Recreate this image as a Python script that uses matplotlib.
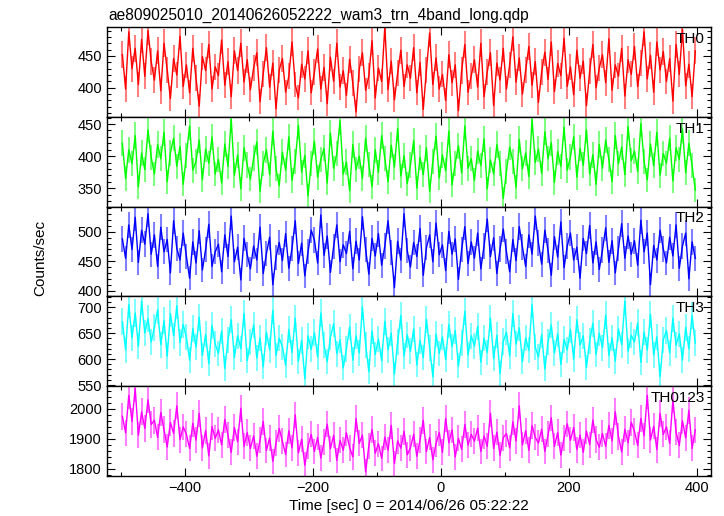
import numpy as np
import matplotlib
matplotlib.use('Agg')
import matplotlib.pyplot as plt
from matplotlib.ticker import MultipleLocator

plt.rcParams['font.family'] = ['Liberation Sans', 'DejaVu Sans']

title = 'ae809025010_20140626052222_wam3_trn_4band_long.qdp'
xlabel = 'Time [sec] 0 = 2014/06/26 05:22:22'
ylabel = 'Counts/sec'

# 5-s bins, start of first bin at -500 s
bin_start = -500.0
bin_size = 5.0

labels = ['TH0', 'TH1', 'TH2', 'TH3', 'TH0123']
colors = ['#ff0000', '#00ff00', '#0000ff', '#00ffff', '#ff00ff']
ylims = [(354, 495), (321, 461), (390, 543), (548, 721), (1777, 2076)]
ymajor = [50, 50, 50, 50, 100]
yminor = [10, 10, 10, 10, 20]

th0 = [452, 398, 488, 430, 462, 405, 476, 418, 490, 441,
       412, 458, 395, 470, 428, 383, 446, 420, 481, 402,
       436, 392, 462, 415, 371, 449, 427, 468, 398, 433,
       419, 475, 404, 441, 386, 458, 427, 470, 409, 444,
       397, 431, 455, 378, 422, 463, 401, 439, 367, 428,
       446, 393, 418, 472, 405, 384, 437, 414, 458, 392,
       425, 461, 398, 432, 375, 448, 410, 470, 401, 427,
       388, 445, 407, 362, 429, 455, 396, 419, 474, 384,
       431, 410, 496, 397, 442, 381, 423, 459, 402, 436,
       415, 463, 392, 440, 366, 428, 486, 405, 447, 398,
       421, 380, 452, 408, 436, 364, 427, 468, 393, 419,
       444, 401, 470, 386, 425, 455, 372, 439, 412, 462,
       398, 436, 480, 409, 447, 390, 428, 465, 404, 441,
       377, 425, 456, 413, 472, 394, 438, 419, 478, 402,
       433, 389, 459, 415, 442, 372, 426, 468, 400, 431,
       452, 408, 477, 396, 436, 418, 462, 387, 444, 421,
       465, 402, 439, 488, 414, 451, 393, 472, 428, 457,
       410, 446, 379, 468, 421, 492, 403, 437, 386, 458]

th1 = [420, 365, 410, 388, 432, 352, 405, 379, 441, 398,
       372, 418, 396, 437, 360, 405, 428, 384, 415, 356,
       401, 447, 378, 392, 425, 363, 411, 389, 430, 372,
       395, 358, 419, 384, 458, 370, 402, 349, 413, 386,
       364, 397, 422, 345, 388, 410, 371, 439, 380, 354,
       406, 378, 430, 362, 392, 448, 375, 401, 338, 389,
       423, 367, 395, 412, 358, 436, 381, 404, 455, 372,
       391, 346, 418, 379, 400, 365, 428, 387, 352, 410,
       375, 432, 396, 360, 417, 383, 443, 369, 401, 357,
       386, 424, 350, 398, 371, 413, 345, 392, 431, 366,
       402, 377, 439, 355, 389, 416, 374, 447, 381, 396,
       362, 408, 385, 427, 349, 394, 372, 418, 388, 334,
       376, 414, 392, 351, 426, 380, 405, 368, 457, 390,
       411, 373, 438, 396, 421, 359, 407, 384, 445, 378,
       399, 430, 367, 412, 386, 441, 372, 402, 356, 418,
       381, 425, 395, 360, 432, 388, 414, 371, 446, 393,
       408, 376, 451, 392, 363, 419, 385, 437, 370, 404,
       389, 428, 361, 413, 395, 442, 374, 420, 385, 347]

th2 = [488, 455, 512, 470, 525, 448, 503, 479, 531, 462,
       495, 441, 508, 466, 487, 430, 519, 472, 452, 498,
       458, 421, 483, 447, 502, 435, 470, 513, 441, 466,
       479, 432, 495, 458, 527, 449, 474, 418, 489, 461,
       437, 476, 452, 508, 429, 463, 491, 410, 457, 482,
       451, 497, 438, 472, 519, 446, 481, 425, 466, 503,
       486, 447, 529, 460, 493, 431, 475, 512, 449, 478,
       463, 501, 437, 484, 452, 526, 470, 428, 489, 459,
       497, 443, 476, 519, 465, 405, 484, 452, 531, 468,
       440, 482, 458, 506, 426, 473, 495, 449, 515, 461,
       478, 434, 501, 462, 488, 419, 470, 509, 446, 483,
       455, 498, 437, 476, 522, 458, 490, 429, 471, 505,
       466, 432, 487, 451, 509, 474, 441, 495, 462, 527,
       481, 445, 503, 468, 426, 492, 457, 517, 439, 476,
       498, 452, 474, 421, 489, 463, 511, 447, 483, 436,
       469, 507, 448, 485, 430, 472, 514, 455, 493, 462,
       485, 443, 520, 466, 498, 410, 477, 452, 503, 471,
       447, 491, 459, 512, 438, 476, 498, 420, 483, 455]

th3 = [672, 618, 705, 641, 689, 625, 712, 650, 678, 633,
       661, 695, 628, 674, 606, 688, 645, 703, 632, 667,
       642, 598, 659, 623, 681, 607, 648, 591, 665, 629,
       611, 654, 582, 637, 676, 603, 645, 620, 688, 597,
       633, 666, 602, 641, 585, 652, 618, 694, 607, 640,
       624, 588, 657, 613, 679, 596, 636, 562, 645, 619,
       651, 604, 689, 627, 595, 642, 668, 610, 637, 583,
       620, 662, 598, 645, 612, 701, 628, 576, 654, 609,
       639, 597, 673, 618, 650, 571, 633, 684, 606, 647,
       615, 658, 589, 636, 603, 677, 622, 566, 648, 611,
       643, 599, 667, 624, 655, 587, 631, 692, 608, 645,
       625, 663, 594, 640, 613, 679, 601, 646, 572, 634,
       652, 606, 688, 629, 660, 595, 641, 617, 705, 623,
       604, 647, 581, 633, 666, 612, 649, 590, 638, 618,
       657, 600, 676, 627, 645, 584, 635, 669, 609, 650,
       622, 685, 607, 641, 596, 658, 628, 712, 615, 646,
       633, 670, 594, 652, 618, 686, 608, 643, 566, 637,
       655, 612, 679, 627, 649, 598, 661, 620, 684, 631]

th0123 = [1975, 1920, 2045, 1958, 2068, 1912, 1990, 1935, 2030, 1948,
          1962, 1905, 1988, 1931, 1873, 1955, 1918, 2010, 1897, 1940,
          1915, 1868, 1952, 1896, 1985, 1870, 1928, 1843, 1941, 1902,
          1930, 1880, 1965, 1912, 1855, 1938, 1890, 2002, 1875, 1921,
          1868, 1910, 1842, 1895, 1958, 1861, 1903, 1825, 1886, 1934,
          1892, 1848, 1927, 1870, 1980, 1853, 1899, 1812, 1876, 1915,
          1858, 1905, 1836, 1889, 1949, 1867, 1912, 1828, 1895, 1862,
          1920, 1871, 1840, 1968, 1885, 1912, 1790, 1877, 1931, 1852,
          1884, 1835, 1906, 1862, 1945, 1818, 1893, 1869, 1925, 1847,
          1870, 1915, 1842, 1896, 1962, 1858, 1905, 1830, 1884, 1921,
          1855, 1968, 1887, 1930, 1840, 1902, 1865, 1948, 1879, 1915,
          1892, 1936, 1858, 1910, 1875, 1985, 1868, 1922, 1845, 1904,
          1918, 1870, 1957, 1893, 2010, 1880, 1927, 1862, 1944, 1905,
          1886, 1932, 1858, 1915, 1970, 1875, 1921, 1846, 1903, 1950,
          1895, 1938, 1864, 1912, 1855, 1926, 1881, 1963, 1898, 1872,
          1918, 1875, 1945, 1893, 1990, 1908, 1856, 1932, 1887, 1955,
          1925, 1878, 1968, 1910, 2045, 1896, 1942, 1864, 1985, 1915,
          1940, 1885, 2030, 1922, 1878, 1960, 1903, 1995, 1868, 1930]

series = [th0, th1, th2, th3, th0123]

fig, axes = plt.subplots(5, 1, sharex=True, figsize=(7.24, 5.16), dpi=100)
fig.subplots_adjust(left=0.1474, right=0.982, top=0.947, bottom=0.078, hspace=0)

for ax, y, lab, c, yl, ymj, ymn in zip(axes, series, labels, colors, ylims, ymajor, yminor):
    y = np.asarray(y, dtype=float)
    t = bin_start + bin_size * (np.arange(len(y)) + 0.5)
    # Poisson errors for 1-s counts
    err = np.sqrt(y)
    ax.errorbar(t, y, yerr=err, fmt='none', ecolor=c, alpha=0.5, elinewidth=1.5)
    ax.plot(t, y, color=c, lw=1.0)
    ax.set_ylim(*yl)
    ax.set_xlim(-522, 422)
    ax.yaxis.set_major_locator(MultipleLocator(ymj))
    ax.yaxis.set_minor_locator(MultipleLocator(ymn))
    ax.xaxis.set_major_locator(MultipleLocator(200))
    ax.xaxis.set_minor_locator(MultipleLocator(100))
    ax.tick_params(which='both', direction='in', top=True, right=True, labelsize=10.5)
    ax.tick_params(which='major', length=6, width=0.8)
    ax.tick_params(which='minor', length=3, width=0.8)
    for s in ax.spines.values():
        s.set_linewidth(1.0)
    ax.text(0.99, 0.95, lab, transform=ax.transAxes, ha='right', va='top', fontsize=11)

axes[-1].set_xlabel(xlabel, fontsize=11, labelpad=3)
fig.text(0.055, 0.5, ylabel, rotation=90, ha='center', va='center', fontsize=11)
fig.text(0.149, 0.971, title, ha='left', va='center', fontsize=11.2)

fig.savefig('out.png', dpi=100, facecolor='white')
plt.close()
